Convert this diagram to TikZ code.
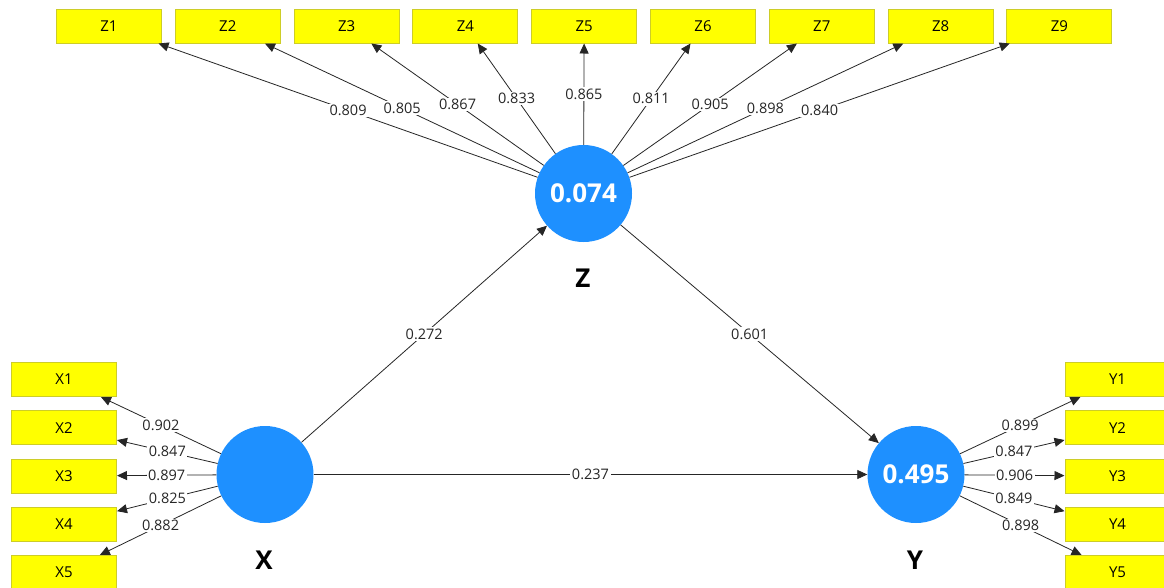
\documentclass[tikz,border=0pt]{standalone}
\usepackage{fontspec}
\setmainfont{Open Sans}
\usetikzlibrary{arrows.meta}
\definecolor{lvblue}{RGB}{30,144,255}
\definecolor{boxyellow}{RGB}{255,255,0}
\definecolor{boxborder}{RGB}{205,205,40}
\begin{document}
\begin{tikzpicture}[x=1pt,y=-1pt,
 ind/.style={draw=boxborder, fill=boxyellow, minimum width=105pt, minimum height=34pt, inner sep=0pt, font=\fontsize{15}{18}\selectfont, line width=1pt},
 lv/.style={circle, fill=lvblue, minimum size=97pt, inner sep=0pt, text=white, font=\fontsize{26}{30}\selectfont\bfseries},
 lvname/.style={font=\fontsize{26}{30}\selectfont\bfseries},
 arr/.style={-{Triangle[length=10pt,width=9pt]}, line width=0.8pt, draw=black!85},
 val/.style={fill=white, inner sep=1.5pt, font=\fontsize{14.5}{16}\selectfont, text=black!85, midway}
]
\clip (0,0) rectangle (1164,587);
\fill[white] (0,0) rectangle (1164,587);
\node[lv] (Z) at (583.5,193.5) {0.074};
\node[lv] (X) at (265,474.5) {};
\node[lv] (Y) at (916,474.5) {0.495};
\node[lvname] (Zn) at (583,278) {Z};
\node[lvname] (Xn) at (264,560) {X};
\node[lvname] (Yn) at (915,560) {Y};
\foreach \i/\v in {1/0.809,2/0.805,3/0.867,4/0.833,5/0.865,6/0.811,7/0.905,8/0.898,9/0.840}{
  \node[ind] (Z\i) at ({109+118.8*(\i-1)},26) {Z\i};
  \draw[arr] (Z) -- node[val]{\v} (Z\i);
}
\foreach \i/\v in {1/0.902,2/0.847,3/0.897,4/0.825,5/0.882}{
  \node[ind] (X\i) at (64,{379.5+48.25*(\i-1)}) {X\i};
  \draw[arr] (X) -- node[val]{\v} (X\i);
}
\foreach \i/\v in {1/0.899,2/0.847,3/0.906,4/0.849,5/0.898}{
  \node[ind] (Y\i) at (1117.5,{379.5+48.25*(\i-1)}) {Y\i};
  \draw[arr] (Y) -- node[val]{\v} (Y\i);
}
\draw[arr] (X) -- node[val]{0.272} (Z);
\draw[arr] (Z) -- node[val]{0.601} (Y);
\draw[arr] (X) -- node[val]{0.237} (Y);
\end{tikzpicture}
\end{document}
